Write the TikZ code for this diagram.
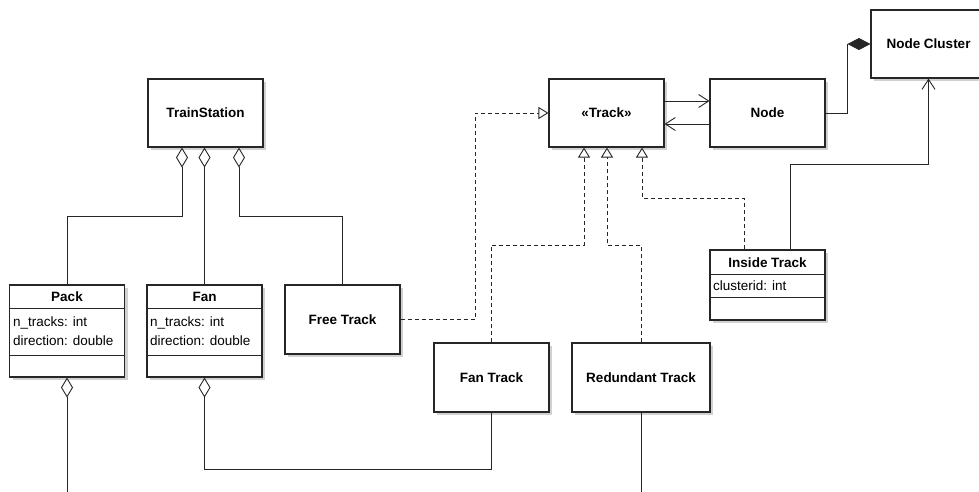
\documentclass[tikz,border=0pt]{standalone}
\usepackage{fontspec}
\setmainfont{Liberation Sans}
\usetikzlibrary{arrows.meta,shadows}
\begin{document}
\begin{tikzpicture}[x=1pt,y=-1pt,
  box/.style={draw=black!85, line width=1.1pt, fill=white,
    general shadow={fill=black!18, shadow xshift=3pt, shadow yshift=-3pt},
    inner sep=0pt, font=\fontsize{13.5}{16}\selectfont\bfseries},
  lbl/.style={inner sep=0pt, font=\fontsize{13.5}{16}\selectfont\bfseries},
  attr/.style={inner sep=0pt, anchor=west, font=\fontsize{13.5}{16}\selectfont},
  sep/.style={draw=black!85, line width=1pt},
  conn/.style={draw=black!85, line width=0.9pt},
  aggr/.style={conn, -{Diamond[open, length=20pt, width=12pt, line width=0.9pt]}},
  comp/.style={conn, -{Diamond[length=23pt, width=12pt]}},
  real/.style={conn, dash pattern=on 4pt off 3pt, -{Triangle[open, length=10pt, width=12pt, fill=white, line width=0.9pt]}},
  assoc/.style={conn, -{Straight Barb[length=10pt, width=13pt, line width=0.9pt]}},
]
\useasboundingbox (0,0) rectangle (979,491);

% plain boxes
\node[box, minimum width=115pt, minimum height=68pt] (ts) at (205.5,113) {TrainStation};
\node[box, minimum width=115pt, minimum height=68pt] (track) at (606.5,113) {«Track»};
\node[box, minimum width=115pt, minimum height=68pt] (node) at (767.5,113) {Node};
\node[box, minimum width=115pt, minimum height=68pt] (cluster) at (928.5,44) {Node Cluster};
\node[box, minimum width=115pt, minimum height=69pt] (free) at (342.5,319.5) {Free Track};
\node[box, minimum width=115pt, minimum height=69pt] (fantrack) at (491.5,377.5) {Fan Track};
\node[box, minimum width=138pt, minimum height=69pt] (redund) at (641,377.5) {Redundant Track};

% class boxes with compartments
\node[box, minimum width=115pt, minimum height=92pt] (pack) at (67,331) {};
\node[lbl] (packname) at (67,297) {Pack};
\draw[sep] (pack.west |- 0,308) -- (pack.east |- 0,308);
\draw[sep] (pack.west |- 0,355) -- (pack.east |- 0,355);
\node[attr] (packa1) at (13,323) {n\_tracks: int};
\node[attr] (packa2) at (13,341) {direction: double};

\node[box, minimum width=115pt, minimum height=92pt] (fan) at (204.5,331) {};
\node[lbl] (fanname) at (204.5,297) {Fan};
\draw[sep] (fan.west |- 0,308) -- (fan.east |- 0,308);
\draw[sep] (fan.west |- 0,355) -- (fan.east |- 0,355);
\node[attr] (fana1) at (150,323) {n\_tracks: int};
\node[attr] (fana2) at (150,341) {direction: double};

\node[box, minimum width=115pt, minimum height=70pt] (inside) at (767.5,285) {};
\node[lbl] (insidename) at (767.5,263) {Inside Track};
\draw[sep] (inside.west |- 0,274) -- (inside.east |- 0,274);
\draw[sep] (inside.west |- 0,297) -- (inside.east |- 0,297);
\node[attr] (insidea1) at (713,286) {clusterid: int};

% aggregations to TrainStation
\draw[aggr] (pack.north) |- (182,216) -- (182,0 |- ts.south);
\draw[aggr] (fan.north) -- (fan.north |- ts.south);
\draw[aggr] (free.north) |- (239,216) -- (239,0 |- ts.south);

% aggregations below
\coordinate (packend) at (67,495);
\draw[aggr] (packend) -- (pack.south);
\draw[aggr] (fantrack.south) |- (204.5,469) -- (fan.south);
\coordinate (redend) at (641,495);
\draw[conn] (redund.south) -- (redend);

% realizations of Track
\draw[real] (free.east) -| (475,113) -- (track.west);
\draw[real] (fantrack.north) |- (584,245) -- (584,0 |- track.south);
\draw[real] (redund.north) |- (607,245) -- (607,0 |- track.south);
\draw[real] (744,0 |- inside.north) |- (642,198) -- (642,0 |- track.south);

% associations
\draw[assoc] (track.east |- 0,101) -- (node.west |- 0,101);
\draw[assoc] (node.west |- 0,124) -- (track.east |- 0,124);
\draw[assoc] (790,0 |- inside.north) |- (928.5,164) -- (cluster.south);

% composition
\draw[comp] (node.east) -- (847,113) |- (cluster.west);
\end{tikzpicture}
\end{document}
